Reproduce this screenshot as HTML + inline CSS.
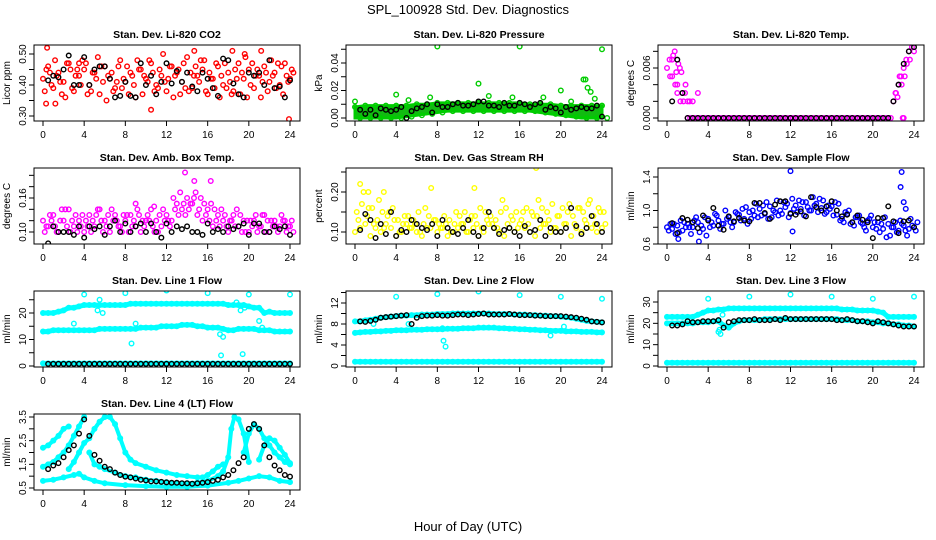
<!DOCTYPE html>
<html><head><meta charset="utf-8"><title>SPL_100928 Std. Dev. Diagnostics</title>
<style>
html,body{margin:0;padding:0;background:#fff;}
svg{display:block;font-family:"Liberation Sans",Arial,sans-serif;}
</style></head>
<body>
<svg id="fig" width="936" height="540" viewBox="0 0 936 540" xmlns="http://www.w3.org/2000/svg">
<text x="468" y="14" text-anchor="middle" font-size="13">SPL_100928  Std. Dev. Diagnostics</text>
<text x="468" y="531" text-anchor="middle" font-size="13">Hour of Day (UTC)</text>
</svg>
<script>
// ---------- data ----------
const xTicks = [0,4,8,12,16,20,24];
// Panel 1: CO2
const co2Red1 = [0.42,0.46,0.39,0.44,0.41,0.47,0.38,0.43,0.45,0.40,0.44,0.37,0.46,0.42,0.39,0.48,0.41,0.44,0.36,0.45,0.42,0.47,0.40,0.43,0.38,0.46,0.44,0.41,0.49,0.39,0.43,0.45,0.37,0.42,0.46,0.40,0.44,0.38,0.47,0.42,0.45,0.39,0.43,0.46,0.41,0.44,0.40,0.47,0.42];
const co2Red2 = [0.38,0.44,0.48,0.41,0.36,0.45,0.43,0.40,0.47,0.38,0.42,0.46,0.35,0.44,0.41,0.39,0.46,0.43,0.48,0.37,0.41,0.44,0.39,0.50,0.42,0.36,0.45,0.47,0.38,0.43,0.41,0.48,0.44,0.39,0.36,0.47,0.41,0.45,0.37,0.49,0.40,0.43,0.36,0.44,0.48,0.39,0.46,0.43,0.45];
const co2Red3 = [0.45,0.40,0.43,0.37,0.47,0.39,0.45,0.48,0.37,0.44,0.49,0.41,0.43,0.38,0.46,0.42,0.37,0.40,0.45,0.43,0.48,0.38,0.45,0.41,0.46,0.43,0.37,0.39,0.44,0.46,0.48,0.38,0.42,0.47,0.43,0.39,0.37,0.42,0.44,0.36,0.47,0.45,0.41,0.38,0.43,0.47,0.37,0.41,0.44];
const co2OutT = [0.4,0.3,1.2,10.5,14.7,18.4,19.6,21.2,23.9,3.5];
const co2OutV = [0.52,0.34,0.34,0.32,0.51,0.51,0.50,0.51,0.29,0.47];
const co2Black = [0.415,0.43,0.425,0.45,0.495,0.40,0.40,0.49,0.40,0.45,0.46,0.46,0.42,0.36,0.365,0.41,0.365,0.36,0.47,0.40,0.43,0.37,0.41,0.47,0.405,0.445,0.41,0.44,0.395,0.38,0.44,0.42,0.39,0.365,0.485,0.48,0.405,0.37,0.36,0.44,0.43,0.44,0.40,0.48,0.39,0.395,0.36,0.415];
// Panel 2: Pressure
const presLowT = [0,1,2,3,4,5,6,7,8,9,10,11,12,13,14,15,16,17,18,19,20,21,22,23,24];
const presLow = [0,0,0,0,0,0.001,0.002,0.003,0.004,0.005,0.005,0.005,0.005,0.005,0.005,0.005,0.005,0.005,0.004,0.003,0.002,0.001,0,0,0];
const presHigh = [0.008,0.009,0.009,0.009,0.009,0.009,0.010,0.010,0.011,0.011,0.011,0.011,0.011,0.011,0.011,0.011,0.011,0.010,0.010,0.010,0.009,0.009,0.009,0.009,0.009];
const presOutT = [0,4,5.2,7.3,8,12,13,15.3,16,18.3,20,21,22.2,22.4,22.6,22.9,23.3,24];
const presOutV = [0.012,0.017,0.013,0.015,0.052,0.025,0.016,0.015,0.052,0.015,0.020,0.012,0.028,0.028,0.022,0.019,0.014,0.050];
const presBlack = [0.006,0.003,0.006,0.002,0.007,0.006,0.005,0.006,0.008,0,0.005,0.007,0.008,0.010,0.004,0.010,0.008,0.008,0.010,0.011,0.009,0.009,0.010,0.012,0.012,0.009,0.009,0.008,0.011,0.009,0.009,0.011,0.010,0.008,0.010,0.011,0.006,0.008,0.007,0.004,0.008,0.006,0.007,0.008,0.007,0.007,0.009,0.001];
// Panel 3: Li-820 temp
const tempPink = [0.006,0.007,0.005,0.008,0.004,0.006,0.003,0.003,0,0,0,0,0,0,0,0,0,0,0,0,0,0,0,0,0,0,0,0,0,0,0,0,0,0,0,0,0,0,0,0,0,0,0,0,0,0,0,0,0,0,0,0,0,0,0,0,0,0,0,0,0,0,0,0,0,0,0,0,0,0,0,0,0,0,0,0,0,0,0,0,0,0,0,0,0,0,0,0,0.002,0.003,0.004,0.005,0.006,0.007,0.008,0.009,0.008];
const tempExtraT = [0.3,0.5,0.6,0.8,0.9,1.0,1.1,1.3,1.4,1.6,1.8,2.0,2.2,2.5,3.0,22.2,22.4,22.6,22.8,23.1,23.3,23.6,23.8,23.9,22.9,23.0];
const tempExtraV = [0.005,0.007,0.0075,0.004,0.0055,0.003,0.0065,0.002,0.0055,0.002,0.004,0.002,0.002,0.002,0.003,0.003,0.0025,0.005,0.004,0.005,0.0065,0.007,0.0085,0.009,0,0];
const tempBlack = [0.002,0.007,0.003,0,0,0,0,0,0,0,0,0,0,0,0,0,0,0,0,0,0,0,0,0,0,0,0,0,0,0,0,0,0,0,0,0,0,0,0,0,0,0,0,0.002,0.004,0.0065,0.008,0.0085];
// Panel 4: Amb box temp
const ambMag1 = [0.12,0.11,0.13,0.10,0.12,0.14,0.11,0.12,0.10,0.13,0.11,0.14,0.12,0.10,0.13,0.11,0.12,0.13,0.11,0.10,0.12,0.14,0.12,0.11,0.13,0.12,0.15,0.14,0.16,0.15,0.13,0.12,0.14,0.11,0.13,0.12,0.10,0.13,0.11,0.12,0.10,0.12,0.11,0.13,0.10,0.12,0.11,0.12,0.11];
const ambMag2 = [0.10,0.13,0.11,0.12,0.14,0.10,0.13,0.11,0.12,0.10,0.13,0.12,0.11,0.14,0.12,0.10,0.13,0.11,0.14,0.12,0.13,0.11,0.10,0.14,0.12,0.16,0.13,0.15,0.14,0.16,0.14,0.15,0.12,0.14,0.11,0.13,0.12,0.11,0.13,0.10,0.12,0.13,0.11,0.10,0.12,0.11,0.13,0.10,0.12];
const ambMag3 = [0.11,0.12,0.10,0.14,0.11,0.12,0.10,0.13,0.11,0.12,0.14,0.10,0.13,0.12,0.11,0.13,0.10,0.12,0.13,0.11,0.12,0.10,0.13,0.12,0.11,0.14,0.17,0.13,0.15,0.17,0.16,0.13,0.15,0.12,0.14,0.11,0.12,0.14,0.10,0.12,0.11,0.10,0.13,0.12,0.11,0.10,0.12,0.11,0.10];
const ambOutT = [13.8,14.7,16.3,9,10.8];
const ambOutV = [0.205,0.19,0.19,0.15,0.145];
const ambBlack = [0.08,0.11,0.10,0.10,0.10,0.095,0.11,0.09,0.11,0.105,0.11,0.095,0.11,0.12,0.10,0.115,0.10,0.11,0.115,0.10,0.115,0.10,0.09,0.115,0.10,0.11,0.105,0.11,0.10,0.10,0.095,0.115,0.10,0.105,0.10,0.11,0.105,0.11,0.115,0.095,0.115,0.115,0.10,0.10,0.11,0.105,0.11,0.095];
// Panel 5: RH
const rhY1 = [0.10,0.11,0.12,0.09,0.11,0.10,0.12,0.11,0.09,0.10,0.12,0.11,0.10,0.09,0.11,0.12,0.10,0.11,0.09,0.10,0.11,0.12,0.10,0.11,0.09,0.10,0.12,0.11,0.10,0.09,0.11,0.10,0.12,0.11,0.10,0.09,0.11,0.12,0.10,0.11,0.10,0.12,0.09,0.11,0.10,0.12,0.11,0.10,0.11];
const rhY2 = [0.15,0.17,0.14,0.16,0.13,0.15,0.14,0.16,0.13,0.12,0.14,0.13,0.15,0.12,0.14,0.13,0.12,0.14,0.13,0.12,0.14,0.15,0.13,0.14,0.16,0.15,0.14,0.13,0.15,0.16,0.14,0.15,0.13,0.16,0.15,0.14,0.16,0.15,0.17,0.14,0.16,0.15,0.14,0.16,0.15,0.17,0.14,0.16,0.15];
const rhY3 = [0.13,0.20,0.16,0.12,0.18,0.11,0.15,0.13,0.10,0.14,0.11,0.12,0.10,0.16,0.11,0.13,0.11,0.12,0.10,0.15,0.12,0.10,0.14,0.12,0.11,0.13,0.12,0.11,0.18,0.12,0.13,0.11,0.15,0.12,0.14,0.18,0.12,0.13,0.11,0.14,0.12,0.17,0.12,0.16,0.13,0.18,0.12,0.15,0.12];
const rhOutT = [0.5,1.3,2.8,7.4,11.6,17.6];
const rhOutV = [0.22,0.20,0.20,0.21,0.21,0.26];
const rhBlack = [0.105,0.145,0.13,0.085,0.12,0.095,0.15,0.09,0.105,0.10,0.13,0.12,0.11,0.105,0.12,0.09,0.13,0.11,0.10,0.095,0.11,0.13,0.10,0.09,0.11,0.15,0.11,0.095,0.105,0.11,0.10,0.09,0.115,0.10,0.105,0.13,0.09,0.11,0.10,0.10,0.11,0.16,0.115,0.095,0.11,0.14,0.12,0.10];
// Panel 6: Sample flow
const flowB1 = [0.80,0.78,0.82,0.76,0.84,0.80,0.86,0.78,0.90,0.82,0.88,0.84,0.92,0.86,0.95,0.90,0.98,0.94,1.02,0.96,1.05,0.98,1.00,1.04,0.97,1.06,1.02,1.10,1.00,1.08,1.03,0.98,1.05,0.95,0.90,0.96,0.86,0.92,0.84,0.88,0.80,0.86,0.78,0.84,0.80,0.76,0.82,0.78,0.80];
const flowB2 = [0.76,0.84,0.74,0.86,0.80,0.88,0.74,0.92,0.80,0.96,0.78,1.00,0.86,0.98,0.88,1.04,0.90,1.08,0.94,1.10,0.92,1.12,0.96,1.08,1.14,0.98,1.10,1.04,1.16,0.98,1.12,1.06,0.94,1.08,0.86,1.00,0.82,0.94,0.80,0.90,0.86,0.74,0.92,0.70,0.86,0.88,0.76,0.90,0.76];
const flowB3 = [0.84,0.72,0.88,0.80,0.72,0.92,0.82,0.70,0.86,0.94,0.84,0.90,0.80,0.96,1.02,0.84,1.00,0.92,1.06,0.90,1.00,0.94,1.10,0.92,1.02,1.12,0.94,1.00,1.06,1.14,0.96,1.02,1.10,0.88,0.98,0.84,0.92,0.86,0.76,0.94,0.78,0.84,0.68,0.80,0.74,0.84,0.70,0.82,0.86];
const flowOutT = [12,22.8,22.7,23,23.2,12.2,3.1,1.1];
const flowOutV = [1.47,1.46,1.28,1.10,1.02,0.75,0.63,0.66];
const flowBlack = [0.85,0.73,0.91,0.89,0.86,0.79,0.94,0.88,1.03,0.82,0.77,0.93,0.87,0.91,0.88,0.87,1.09,1.09,0.97,0.90,1.07,1.11,1.11,0.96,0.95,0.99,0.93,1.16,1.04,1.00,1.05,1.11,1.00,0.93,0.95,0.86,0.94,0.89,0.86,0.67,0.91,0.91,1.05,0.87,0.73,0.87,0.88,0.80];
// Panel 7: Line 1
const l1Top = [20,20,20,20.5,21,22,22,22.5,23,23,23,23,23,23,23,23,23,23.5,23.5,23.5,23.5,23.5,23.5,23.5,23.5,23.5,23.5,23.5,23.5,23.5,23.5,23.5,23.5,23.5,23.5,23.5,23,23,23,23,22.5,22,22,20,20.5,20,20,20,20];
const l1Mid = [13,13,13.5,13.5,13.5,13.5,13.5,13.5,13.5,13.5,13.5,14,14,14,14,14,14,14,14,14.5,14.5,14.5,14.5,15,15,15,15,15.5,15.5,15.5,15,15,14.5,14.5,14.5,14,13.5,13.5,14,14,14,14,13.5,13.5,13.5,13,13,13,13];
const l1Bot = [1,1,1,1,1,1,1,1,1,1,1,1,1,1,1,1,1,1,1,1,1,1,1,1,1,1,1,1,1,1,1,1,1,1,1,1,1,1,1,1,1,1,1,1,1,1,1,1,1];
const l1OutT = [4,8,12,16,20,24,5.5,5.3,5.8,3,8.6,9,17.2,17.5,17.3,19.4,19.2,19.6,21,21.3,18.8];
const l1OutV = [27,27.5,28.5,27.5,27,27,25,21,20,16,8.5,16,12,11,4,4.5,21,22,17,14.5,24];
const l1Black = [0.8,0.8,0.8,0.8,0.8,0.8,0.8,0.8,0.8,0.8,0.8,0.8,0.8,0.8,0.8,0.8,0.8,0.8,0.8,0.8,0.8,0.8,0.8,0.8,0.8,0.8,0.8,0.8,0.8,0.8,0.8,0.8,0.8,0.8,0.8,0.8,0.8,0.8,0.8,0.8,0.8,0.8,0.8,0.8,0.8,0.8,0.8,0.8];
// Panel 8: Line 2
const l2Top = [8.5,8.5,8.7,8.8,9.0,9.2,9.3,9.4,9.5,9.6,9.6,9.7,9.7,9.8,9.8,9.8,9.9,9.9,9.9,10,10,10,10,10,10,10,10,9.9,9.9,9.9,9.9,9.8,9.8,9.8,9.7,9.7,9.6,9.6,9.5,9.5,9.4,9.3,9.2,9,8.8,8.6,8.5,8.4,8.3];
const l2Mid = [6.3,6.4,6.5,6.5,6.6,6.6,6.7,6.7,6.8,6.8,6.8,6.9,6.9,6.9,7,7,7,7,7.1,7.1,7.1,7.2,7.2,7.2,7.3,7.3,7.3,7.3,7.2,7.2,7.1,7.1,7,7,6.9,6.9,6.8,6.8,6.7,6.7,6.7,6.6,6.6,6.6,6.5,6.5,6.5,6.4,6.4];
const l2Bot = [0.8,0.8,0.8,0.8,0.8,0.8,0.8,0.8,0.8,0.8,0.8,0.8,0.8,0.8,0.8,0.8,0.8,0.8,0.8,0.8,0.8,0.8,0.8,0.8,0.8,0.8,0.8,0.8,0.8,0.8,0.8,0.8,0.8,0.8,0.8,0.8,0.8,0.8,0.8,0.8,0.8,0.8,0.8,0.8,0.8,0.8,0.8,0.8,0.8];
const l2OutT = [4,8,12,16,20,24,8.6,8.8,8.5,1.8,5.2,19,20.3];
const l2OutV = [13.2,13.7,14.2,13.5,13.2,12.8,4.8,3.7,7.2,8,8,5.8,7.5];
const l2Black = [8.5,8.4,8.6,8.8,9.2,9.3,9.4,9.5,9.6,9.7,8.0,9.2,9.5,9.6,9.6,9.7,9.6,9.6,9.7,9.8,9.8,9.7,9.8,9.9,10.0,9.8,9.8,9.8,9.8,9.9,9.8,9.7,9.7,9.7,9.6,9.6,9.5,9.5,9.5,9.5,9.4,9.3,9.2,9.0,8.8,8.5,8.4,8.3];
// Panel 9: Line 3
const l3Top = [23,23,23,23,23,23,24,25,26,26,26.5,26.5,27,27,27,27,27,27,27,27,27,27,27,27,27,27,27,27,27,27,27,27,27,27,26.5,26.5,26.5,26,26,26,26,25.5,25,23,23,23,23,23,23];
const l3Mid = [20,20,20,20,20,20,20.5,20.5,20.5,21,21,19,18,20,21,21.5,21.5,21.5,21.5,22,22,22,22,22,22,22,22,22,22,22,22,22,22,22,21.5,21.5,21.5,21,21,21,20.5,20.5,20,20,19.5,19.5,19,19,18.5];
const l3Bot = [1.5,1.5,1.5,1.5,1.5,1.5,1.5,1.5,1.5,1.5,1.5,1.5,1.5,1.5,1.5,1.5,1.5,1.5,1.5,1.5,1.5,1.5,1.5,1.5,1.5,1.5,1.5,1.5,1.5,1.5,1.5,1.5,1.5,1.5,1.5,1.5,1.5,1.5,1.5,1.5,1.5,1.5,1.5,1.5,1.5,1.5,1.5,1.5,1.5];
const l3OutT = [4,8,12,16,20,24,5,5.2,5.4,5.1];
const l3OutV = [31.5,32.5,33.5,32.5,31.5,32.5,16,15,24,17];
const l3Black = [19,19,19.5,21,20.5,20.5,21,21,21,21.5,18,20.5,21,21.5,21.5,21.5,22,21.5,21.5,21.5,22,21.5,22.5,22,22,22,22,22,22,22,22,22,21.5,21.5,22,21.5,21,21,20.5,20,21,20.5,20,19.5,19,18.5,18.5,18.5];
// Panel 10: Line 4
const l4aT = [0,0.5,1,1.5,2,2.5];
const l4aV = [2.2,2.3,2.5,2.7,3.0,3.1];
const l4bT = [0,0.5,1,1.5,2,2.5,3,3.5,4];
const l4bV = [1.4,1.5,1.6,1.8,2.0,2.3,2.7,3.1,3.5];
const l4cT = [2.5,3,3.5,4,4.5,5,5.5,6,6.5,7,7.5,8,8.5,9,10,11,12,13,14,15,15.5,16,16.5,17,17.5];
const l4cV = [1.3,1.6,2.0,2.4,2.6,3.0,3.3,3.5,3.5,3.2,2.6,2.0,1.7,1.55,1.4,1.25,1.15,1.05,1.0,0.95,0.95,1.05,1.2,1.4,1.5];
const l4dT = [4.5,5,5.5,6,7,8,9,10,11,12,13,14,15,16,17,17.5,18,18.3,18.6,19,19.5,20];
const l4dV = [2.0,1.5,1.4,1.3,1.15,1.0,0.95,0.85,0.8,0.75,0.7,0.7,0.72,0.8,1.0,1.2,1.8,3.0,3.5,3.4,2.8,1.6];
const l4eT = [19.5,20,20.5,21,21.5,22,22.5,23,23.5,24];
const l4eV = [2.0,2.8,3.2,3.0,2.6,2.3,2.0,1.8,1.6,1.5];
const l4fT = [21,21.5,22,22.5,23,23.5,24];
const l4fV = [1.7,2.3,2.6,2.5,2.2,1.9,1.55];
const l4gT = [0,1,2,3,3.5,4,5,6,8,10,12,14,16,18,19,20,21,22,23,24];
const l4gV = [0.8,0.85,0.95,1.05,1.1,0.95,0.8,0.7,0.62,0.58,0.55,0.55,0.6,0.72,0.8,0.9,1.0,0.95,0.8,0.75];
const l4Black = [1.3,1.45,1.55,1.8,2.1,2.3,2.8,3.4,2.7,1.9,1.65,1.4,1.3,1.15,1.05,0.98,0.95,0.9,0.85,0.82,0.78,0.78,0.76,0.74,0.72,0.72,0.7,0.7,0.68,0.7,0.72,0.75,0.8,0.85,0.95,1.05,1.25,1.55,1.8,3.0,3.2,3.0,2.3,1.8,1.45,1.25,1.05,0.98];

// ---------- drawing ----------
const NS = 'http://www.w3.org/2000/svg';
const svg = document.getElementById('fig');
function mk(tag, attrs, parent){const e=document.createElementNS(NS,tag);for(const k in attrs)e.setAttribute(k,attrs[k]);(parent||svg).appendChild(e);return e;}
const colL=[34,346,658], rowT=[45,168,291,414], W=266, H=76;

function panel(cfg){
  const left=colL[cfg.c], top=rowT[cfg.r];
  const g=mk('g',{});
  
  
  const xs=t=>left+9+t*(247/24);
  const ys=v=>cfg.p0+(v-cfg.v0)*(cfg.p1-cfg.p0)/(cfg.v1-cfg.v0);
  const clip='clip'+cfg.c+cfg.r;
  const cp=mk('clipPath',{id:clip},g);mk('rect',{x:left,y:top,width:W,height:H},cp);
  const plot=mk('g',{'clip-path':'url(#'+clip+')'},g);
  // title
  const tt=mk('text',{x:left+W/2,y:top-7,'text-anchor':'middle','font-size':'10.5','font-weight':'bold'},g);
  tt.textContent=cfg.title;
  
  
  // box
  const bx=mk('rect',{x:left,y:top,width:W,height:H,fill:'none',stroke:'#000','stroke-width':1},g);
  
  
  // x axis
  const by=top+H;
  mk('line',{x1:xs(0),x2:xs(24),y1:by,y2:by,stroke:'#000'},g);
  xTicks.forEach(t=>{
    mk('line',{x1:xs(t),x2:xs(t),y1:by,y2:by+5,stroke:'#000'},g);
    const lb=mk('text',{x:xs(t),y:by+17,'text-anchor':'middle','font-size':'10'},g);
    lb.textContent=t;
    
    
  });
  // y axis
  const yt=cfg.yTicks;
  mk('line',{x1:left,x2:left,y1:ys(yt[0]),y2:ys(yt[yt.length-1]),stroke:'#000'},g);
  yt.forEach(v=>mk('line',{x1:left-5,x2:left,y1:ys(v),y2:ys(v),stroke:'#000'},g));
  cfg.yLabels.forEach(v=>{
    const y=ys(v), x=left-8;
    const lb=mk('text',{x:x,y:y,'text-anchor':'middle','font-size':'10',transform:'rotate(-90 '+x+' '+y+')'},g);
    lb.textContent=v.toFixed(cfg.dec);
    
    
  });
  const yx=left-24, yy=top+H/2;
  const yl=mk('text',{x:yx,y:yy,'text-anchor':'middle','font-size':'10',transform:'rotate(-90 '+yx+' '+yy+')'},g);
  yl.textContent=cfg.ylab;
  
  
  return {plot,xs,ys};
}
function pt(P,t,v,col){
  const c=mk('circle',{cx:P.xs(t),cy:P.ys(v),r:2.3,fill:'none',stroke:col,'stroke-width':1.4},P.plot);
  
  
}
function series(P,vals,off,step,col){vals.forEach((v,i)=>pt(P,off+i*step,v,col));}
function pairs(P,ts,vs,col){ts.forEach((t,i)=>pt(P,t,vs[i],col));}
function band(P,ts,vs,col,w){
  const d=ts.map((t,i)=>(i?'L':'M')+P.xs(t).toFixed(1)+' '+P.ys(vs[i]).toFixed(1)).join(' ');
  const p=mk('path',{d:d,fill:'none',stroke:col,'stroke-width':w,'stroke-linejoin':'round','stroke-linecap':'round'},P.plot);
  
  
}
const half = co2Red1.map((_,i)=>i*0.5);
const BLK='#000';

// P1
let P=panel({c:0,r:0,name:'panel-co2',title:'Stan. Dev. Li-820 CO2',ylab:'Licor ppm',v0:0.30,p0:116,v1:0.50,p1:54,yTicks:[0.30,0.35,0.40,0.45,0.50],yLabels:[0.30,0.40,0.50],dec:2});
series(P,co2Red1,0,0.5,'#ff0000');series(P,co2Red2,0.17,0.5,'#ff0000');series(P,co2Red3,0.33,0.5,'#ff0000');
pairs(P,co2OutT,co2OutV,'#ff0000');series(P,co2Black,0.5,0.5,BLK);
// P2
P=panel({c:1,r:0,name:'panel-pressure',title:'Stan. Dev. Li-820 Pressure',ylab:'kPa',v0:0,p0:118,v1:0.04,p1:63,yTicks:[0,0.01,0.02,0.03,0.04,0.05],yLabels:[0,0.02,0.04],dec:2});
{const d=presLowT.map((t,i)=>(i?'L':'M')+P.xs(t)+' '+P.ys(presHigh[i])).join(' ')+' '+presLowT.slice().reverse().map(t=>'L'+P.xs(t)+' '+P.ys(presLow[presLowT.indexOf(t)])).join(' ')+'Z';
 const a=mk('path',{d:d,fill:'#11bb11',stroke:'#00cc00','stroke-width':3},P.plot);
 
 }
series(P,presHigh,0,1,'#00cc00');series(P,presLow,0.5,1,'#00cc00');
pairs(P,presOutT,presOutV,'#00cc00');series(P,presBlack,0.5,0.5,BLK);
// P3
P=panel({c:2,r:0,name:'panel-li820-temp',title:'Stan. Dev. Li-820 Temp.',ylab:'degrees C',v0:0,p0:118,v1:0.006,p1:68,yTicks:[0,0.002,0.004,0.006,0.008],yLabels:[0,0.006],dec:3});
series(P,tempPink,0,0.25,'#ff00ff');pairs(P,tempExtraT,tempExtraV,'#ff00ff');series(P,tempBlack,0.5,0.5,BLK);
// P4
P=panel({c:0,r:1,name:'panel-amb-box-temp',title:'Stan. Dev. Amb. Box Temp.',ylab:'degrees C',v0:0.10,p0:232,v1:0.16,p1:198,yTicks:[0.10,0.12,0.14,0.16,0.18,0.20],yLabels:[0.10,0.16],dec:2});
series(P,ambMag1,0,0.5,'#ff00ff');series(P,ambMag2,0.17,0.5,'#ff00ff');series(P,ambMag3,0.33,0.5,'#ff00ff');
pairs(P,ambOutT,ambOutV,'#ff00ff');series(P,ambBlack,0.5,0.5,BLK);
// P5
P=panel({c:1,r:1,name:'panel-gas-rh',title:'Stan. Dev. Gas Stream RH',ylab:'percent',v0:0.10,p0:232,v1:0.20,p1:192,yTicks:[0.10,0.15,0.20,0.25],yLabels:[0.10,0.20],dec:2});
series(P,rhY1,0,0.5,'#ffff00');series(P,rhY2,0.17,0.5,'#ffff00');series(P,rhY3,0.33,0.5,'#ffff00');
pairs(P,rhOutT,rhOutV,'#ffff00');series(P,rhBlack,0.5,0.5,BLK);
// P6
P=panel({c:2,r:1,name:'panel-sample-flow',title:'Stan. Dev. Sample Flow',ylab:'ml/min',v0:0.6,p0:244,v1:1.4,p1:177,yTicks:[0.6,0.8,1.0,1.2,1.4],yLabels:[0.6,1.0,1.4],dec:1});
series(P,flowB1,0,0.5,'#0000ff');series(P,flowB2,0.17,0.5,'#0000ff');series(P,flowB3,0.33,0.5,'#0000ff');
pairs(P,flowOutT,flowOutV,'#0000ff');series(P,flowBlack,0.5,0.5,BLK);
// P7
const CY='#00ffff';
P=panel({c:0,r:2,name:'panel-line1-flow',title:'Stan. Dev. Line 1 Flow',ylab:'ml/min',v0:0,p0:366,v1:20,p1:313,yTicks:[0,5,10,15,20,25],yLabels:[0,10,20],dec:0});
[l1Top,l1Mid,l1Bot].forEach(a=>{band(P,half,a,CY,5);series(P,a,0,0.5,CY);});
pairs(P,l1OutT,l1OutV,CY);series(P,l1Black,0.5,0.5,BLK);
// P8
P=panel({c:1,r:2,name:'panel-line2-flow',title:'Stan. Dev. Line 2 Flow',ylab:'ml/min',v0:0,p0:366,v1:12,p1:303,yTicks:[0,2,4,6,8,10,12,14],yLabels:[0,4,8,12],dec:0});
[l2Top,l2Mid,l2Bot].forEach(a=>{band(P,half,a,CY,5);series(P,a,0,0.5,CY);});
pairs(P,l2OutT,l2OutV,CY);series(P,l2Black,0.5,0.5,BLK);
// P9
P=panel({c:2,r:2,name:'panel-line3-flow',title:'Stan. Dev. Line 3 Flow',ylab:'ml/min',v0:0,p0:366,v1:30,p1:302,yTicks:[0,5,10,15,20,25,30],yLabels:[0,10,20,30],dec:0});
[l3Top,l3Mid,l3Bot].forEach(a=>{band(P,half,a,CY,5);series(P,a,0,0.5,CY);});
pairs(P,l3OutT,l3OutV,CY);series(P,l3Black,0.5,0.5,BLK);
// P10
P=panel({c:0,r:3,name:'panel-line4-flow',title:'Stan. Dev. Line 4 (LT) Flow',ylab:'ml/min',v0:0.5,p0:488,v1:3.5,p1:417,yTicks:[0.5,1.0,1.5,2.0,2.5,3.0,3.5],yLabels:[0.5,1.5,2.5,3.5],dec:1});
[[l4aT,l4aV],[l4bT,l4bV],[l4cT,l4cV],[l4dT,l4dV],[l4eT,l4eV],[l4fT,l4fV],[l4gT,l4gV]].forEach(([t,v])=>{band(P,t,v,CY,4);pairs(P,t,v,CY);});
series(P,l4Black,0.5,0.5,BLK);
</script>
</body></html>
